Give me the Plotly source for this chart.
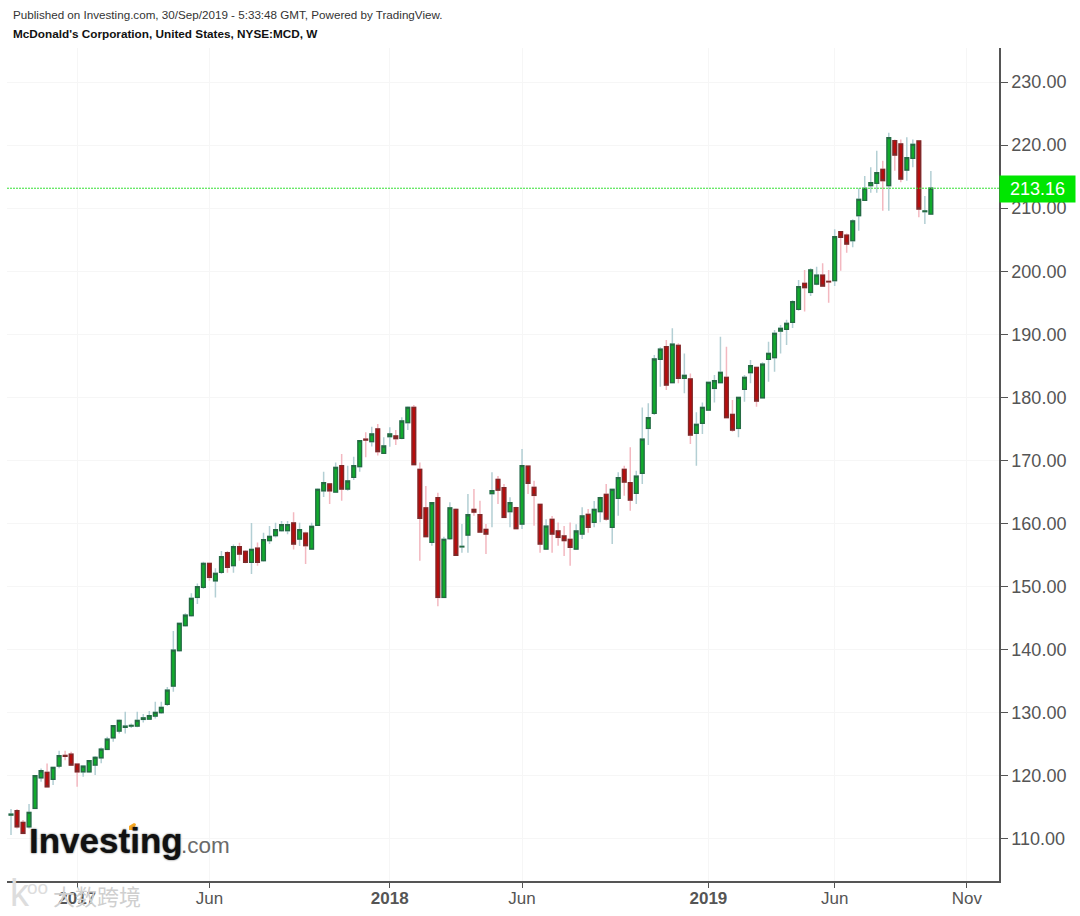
import numpy as np
import pandas as pd
import plotly.graph_objects as go

# weekly bars
start_date = "2016-10-17"

open_prices = [
    113.8, 114.48, 112.63, 111.94, 114.85, 119.71, 120.56, 119.45, 121.56, 123.25,
    123.46, 121.88, 120.66, 120.66, 121.72, 122.88, 124.2, 126.05, 127.1, 127.7,
    127.9, 127.9, 128.96, 129.0, 129.49, 130.02, 131.34, 134.24, 139.85, 143.81,
    145.4, 148.3, 149.89, 153.69, 150.94, 152.27, 155.38, 153.32, 156.34, 155.6,
    153.85, 156.12, 154.12, 157.3, 158.08, 158.87, 158.87, 160.09, 157.55, 158.5,
    155.97, 159.72, 165.2, 166.27, 165.0, 169.18, 165.48, 167.33, 169.02, 173.4,
    172.98, 175.0, 171.13, 173.78, 173.9, 173.51, 176.0, 178.43, 168.6, 162.5,
    157.02, 164.1, 148.3, 157.6, 162.25, 156.3, 158.18, 162.25, 161.4, 159.08,
    164.74, 167.0, 165.69, 161.88, 162.52, 159.93, 169.12, 165.74, 163.05, 155.96,
    160.67, 158.82, 158.03, 157.5, 155.96, 158.34, 161.46, 160.2, 161.88, 164.63,
    159.4, 164.0, 168.6, 166.48, 164.79, 167.96, 175.09, 177.47, 186.03, 188.04,
    182.33, 188.25, 183.02, 182.92, 174.3, 175.89, 178.0, 181.43, 182.33, 183.18,
    177.31, 175.09, 181.28, 183.92, 184.76, 179.95, 186.03, 186.3, 190.53, 190.79,
    191.9, 193.96, 198.08, 196.65, 197.98, 199.4, 198.4, 198.5, 206.27, 205.74,
    204.85, 208.81, 211.24, 213.57, 213.94, 216.16, 213.57, 220.7, 220.17, 216.05,
    217.9, 220.65, 209.45, 209.07,
]
high_prices = [
    114.74, 114.74, 113.0, 115.54, 120.1, 121.19, 121.98, 121.45, 124.0, 124.0,
    123.83, 121.9, 121.6, 122.5, 123.15, 124.5, 126.2, 128.06, 128.96, 130.18,
    128.3, 130.18, 129.8, 130.3, 131.76, 131.76, 134.1, 142.97, 144.3, 145.77,
    148.94, 150.52, 153.96, 153.8, 152.9, 155.65, 155.65, 156.7, 156.97, 155.8,
    160.1, 157.0, 158.56, 159.6, 160.14, 160.4, 160.4, 161.78, 160.14, 158.7,
    160.14, 165.6, 168.2, 166.4, 169.7, 171.03, 169.18, 170.6, 173.25, 174.46,
    175.36, 175.8, 173.67, 175.26, 174.83, 176.84, 178.6, 178.8, 169.7, 165.95,
    163.3, 164.9, 157.92, 163.4, 162.4, 159.93, 164.7, 165.48, 163.63, 159.93,
    168.12, 167.54, 166.27, 164.16, 162.68, 171.82, 169.18, 166.8, 163.05, 160.67,
    161.2, 160.19, 159.61, 160.19, 159.88, 162.57, 162.3, 163.57, 164.26, 166.27,
    165.43, 168.12, 169.17, 172.08, 168.38, 178.42, 179.06, 186.72, 187.94, 189.1,
    190.95, 188.57, 186.98, 183.81, 177.63, 179.2, 182.4, 183.55, 189.63, 188.04,
    179.58, 180.01, 183.55, 185.93, 184.87, 185.56, 188.83, 190.68, 191.48, 192.3,
    195.4, 198.6, 200.2, 200.46, 200.72, 201.25, 200.2, 206.64, 206.3, 206.0,
    208.23, 213.14, 215.1, 216.47, 219.12, 217.53, 221.97, 220.9, 220.9, 221.23,
    220.9, 220.7, 211.93, 215.89,
]
low_prices = [
    110.62, 111.68, 110.78, 111.68, 114.8, 119.08, 118.18, 118.55, 121.2, 122.5,
    121.56, 118.28, 119.87, 120.5, 120.13, 122.0, 124.1, 125.42, 126.74, 126.74,
    127.6, 127.7, 128.45, 128.85, 129.1, 129.8, 131.07, 133.35, 139.7, 143.65,
    145.24, 147.24, 149.62, 150.94, 148.3, 152.0, 152.2, 152.2, 154.1, 153.7,
    152.0, 153.3, 153.96, 156.76, 157.8, 158.7, 158.3, 155.9, 156.44, 153.6,
    155.9, 159.6, 164.2, 163.1, 164.9, 163.63, 165.2, 166.9, 168.23, 170.5,
    172.2, 170.8, 171.03, 172.19, 172.45, 173.35, 174.83, 169.28, 154.1, 157.8,
    156.5, 146.9, 148.15, 157.4, 154.85, 155.38, 155.38, 161.25, 158.55, 155.17,
    159.4, 163.1, 160.83, 159.4, 159.14, 159.14, 164.68, 159.66, 155.38, 155.8,
    155.38, 156.49, 154.85, 153.32, 155.8, 157.55, 158.55, 159.4, 160.2, 160.46,
    156.76, 161.25, 164.42, 162.04, 163.09, 166.27, 172.45, 177.2, 181.7, 181.17,
    182.23, 182.23, 180.64, 172.61, 169.17, 174.2, 177.9, 179.2, 182.23, 176.68,
    174.56, 173.67, 179.32, 182.23, 178.53, 179.85, 182.49, 184.08, 186.98, 188.3,
    191.0, 193.75, 193.6, 196.07, 197.8, 197.55, 195.0, 197.66, 200.09, 202.94,
    203.79, 206.43, 211.14, 212.46, 212.46, 209.6, 209.6, 215.95, 214.1, 214.36,
    216.47, 208.55, 207.49, 209.07,
]
close_prices = [
    113.95, 111.94, 110.88, 114.21, 120.03, 120.82, 118.28, 121.35, 123.2, 123.1,
    121.72, 120.66, 121.56, 122.41, 122.94, 124.26, 125.84, 127.96, 128.8, 127.9,
    128.0, 128.8, 129.2, 129.55, 130.07, 130.86, 133.6, 139.95, 144.18, 145.5,
    148.15, 149.99, 153.69, 151.47, 152.11, 154.75, 153.06, 156.34, 155.17, 153.85,
    155.91, 153.85, 157.45, 157.97, 159.03, 159.82, 159.82, 156.76, 159.03, 156.5,
    159.56, 165.43, 166.48, 165.2, 168.9, 165.48, 166.75, 169.18, 173.14, 173.25,
    174.2, 171.4, 172.3, 174.2, 173.46, 176.26, 178.43, 169.34, 160.83, 157.92,
    163.3, 148.3, 157.5, 162.5, 154.96, 156.4, 161.4, 161.83, 158.66, 158.34,
    165.21, 165.3, 160.98, 163.3, 159.19, 169.18, 166.38, 164.47, 156.76, 159.61,
    158.34, 157.81, 157.3, 156.23, 158.82, 161.2, 159.4, 162.25, 164.1, 160.72,
    165.43, 167.27, 166.58, 163.73, 167.53, 173.4, 176.78, 186.09, 187.67, 181.96,
    188.46, 183.02, 183.5, 174.03, 175.73, 178.42, 182.39, 182.65, 183.97, 176.78,
    174.83, 180.0, 183.18, 185.03, 179.43, 185.29, 186.98, 190.16, 190.95, 191.74,
    195.17, 197.55, 197.4, 200.2, 199.4, 197.66, 198.3, 205.48, 205.38, 204.32,
    207.97, 211.4, 213.14, 214.04, 215.63, 214.36, 221.18, 218.43, 214.62, 218.0,
    220.12, 209.87, 209.55, 213.16,
]

y_ticks = [110, 120, 130, 140, 150, 160, 170, 180, 190, 200, 210, 220, 230]
x_tick_dates = ["2017-01-02", "2017-06-05", "2018-01-01", "2018-06-04", "2019-01-07", "2019-06-03", "2019-11-04"]
x_tick_labels = ["<b>2017</b>", "Jun", "<b>2018</b>", "Jun", "<b>2019</b>", "Jun", "Nov"]

dates = pd.date_range(start_date, periods=len(close_prices), freq="7D")
body_top = np.maximum(open_prices, close_prices)
body_bottom = np.minimum(open_prices, close_prices)


# page pixel -> paper coords (plot area is x 7..999, y 48..881)
def px(x):
    return (x - 7) / 992


def py(y):
    return (881 - y) / 833


fig = go.Figure()

# thin pale wicks first
fig.add_trace(go.Candlestick(
    x=dates, open=open_prices, high=high_prices, low=low_prices, close=close_prices,
    whiskerwidth=0, hoverinfo="skip", showlegend=False,
    increasing=dict(line=dict(color="#b3cfd4", width=1.5), fillcolor="#b3cfd4"),
    decreasing=dict(line=dict(color="#f3b8c0", width=1.5), fillcolor="#f3b8c0"),
))
# bodies on top, dark outline
fig.add_trace(go.Candlestick(
    x=dates, open=open_prices, high=body_top, low=body_bottom, close=close_prices,
    whiskerwidth=0, hoverinfo="skip", showlegend=False,
    increasing=dict(line=dict(color="#256b42", width=1.3), fillcolor="#10ab2c"),
    decreasing=dict(line=dict(color="#7c2a2a", width=1.3), fillcolor="#b80c0c"),
))

fig.add_shape(type="line", xref="paper", x0=0, x1=1, yref="y", y0=close_prices[-1], y1=close_prices[-1],
              line=dict(color="#33e033", width=1, dash="2px,1px"))
# orange dot of the logo
fig.add_shape(type="path", xref="paper", yref="paper",
              path=f"M {px(129)} {py(826)} L {px(134)} {py(823)} L {px(136)} {py(824)} L {px(134)} {py(830)} L {px(129)} {py(830)} Z",
              fillcolor="#f7a823", line=dict(width=0))

font_name = "Liberation Sans"
notes = [
    dict(text="Published on Investing.com, 30/Sep/2019 - 5:33:48 GMT, Powered by TradingView.",
         x=12, y=15, size=11.65, color="#333333"),
    dict(text="<b>McDonald's Corporation, United States, NYSE:MCD, W</b>", x=12, y=33, size=11.75, color="#111111"),
    dict(text="<b>Investing</b>", x=28, y=840, size=35, color="#111111", shadow="0 0 2px #444444"),
    dict(text=".com", x=180, y=845, size=22.5, color="#6a6a6a"),
    dict(text="大数跨境", x=52, y=895, size=22, color="#cfcfcf", family="Noto Sans CJK SC"),
    dict(text="k", x=9, y=893, size=38, color="#dddddd"),
    dict(text="oo", x=26, y=887, size=19, color="#dddddd"),
]
for note in notes:
    fig.add_annotation(text=note["text"], xref="paper", yref="paper", x=px(note["x"]), y=py(note["y"]),
                       xanchor="left", yanchor="middle", showarrow=False, borderpad=0,
                       font=dict(family=note.get("family", font_name), size=note["size"], color=note["color"],
                                 shadow=note.get("shadow", "none")))

# last price tag on the axis
fig.add_annotation(text=f"{close_prices[-1]:.2f}", xref="paper", yref="y", x=1, y=close_prices[-1],
                   xanchor="left", yanchor="middle", yshift=-1, showarrow=False, width=75, height=26, borderpad=0,
                   bgcolor="#00e600", align="center",
                   font=dict(family=font_name, size=18, color="#ffffff"))

fig.update_layout(
    width=1080, height=916, autosize=False,
    margin=dict(l=7, r=81, t=48, b=35),
    boxgap=0.12,
    paper_bgcolor="#ffffff", plot_bgcolor="#ffffff",
    font=dict(family=font_name, color="#555555"),
    xaxis=dict(
        type="date", range=["2016-10-12 08:00", "2019-12-11 08:00"], automargin=False,
        rangeslider=dict(visible=False),
        tickmode="array", tickvals=x_tick_dates, ticktext=x_tick_labels,
        tickfont=dict(size=17, color="#555555"), ticks="outside", ticklen=5, tickcolor="#555555",
        ticklabelstandoff=-4,
        showgrid=True, gridcolor="#f6f6f6", gridwidth=1, zeroline=False,
        showline=True, linecolor="#555555", linewidth=1.5,
    ),
    yaxis=dict(
        side="right", range=[103.34, 235.39], automargin=False,
        tickmode="array", tickvals=y_ticks, ticktext=[f"{v:.2f}" for v in y_ticks],
        tickfont=dict(size=18, color="#555555"), ticks="outside", ticklen=7, tickcolor="#555555",
        showgrid=True, gridcolor="#f6f6f6", gridwidth=1, zeroline=False,
        showline=True, linecolor="#555555", linewidth=1.5,
    ),
)

fig.write_html("out.html", config=dict(displayModeBar=False), post_script="document.body.style.margin='0';")
